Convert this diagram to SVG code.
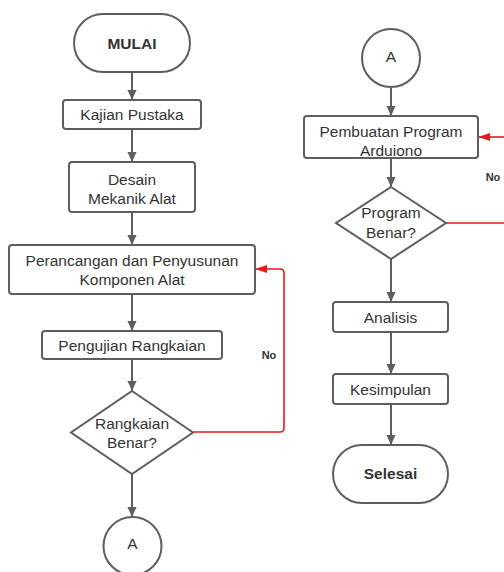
<svg xmlns="http://www.w3.org/2000/svg" width="504" height="572" viewBox="0 0 504 572">
<defs>
<marker id="ah" markerWidth="10" markerHeight="10" viewBox="0 0 10 10" refX="9" refY="5" orient="auto" markerUnits="userSpaceOnUse">
<path d="M0,0.5 L10,5 L0,9.5 Z" fill="#5e5e5e"/>
</marker>
<marker id="ahr" markerWidth="12" markerHeight="10" viewBox="0 0 12 10" refX="11" refY="5" orient="auto" markerUnits="userSpaceOnUse">
<path d="M0,1 L12,5 L0,9 Z" fill="#e81b1b"/>
</marker>
</defs>
<style>
.s{fill:#fff;stroke:#5e5e5e;stroke-width:2}
.t{font-family:"Liberation Sans",Arial,sans-serif;font-size:15.5px;fill:#333;text-anchor:middle}
.b{font-weight:bold}
.n{font-family:"Liberation Sans",Arial,sans-serif;font-size:11px;font-weight:bold;fill:#333;text-anchor:middle}
.c{fill:none;stroke:#5e5e5e;stroke-width:2}
.r{fill:none;stroke:#e81b1b;stroke-width:1.6}
</style>
<rect width="504" height="572" fill="#fff"/>
<g id="connectors">
<path class="c" d="M132,72 V99" marker-end="url(#ah)"/>
<path class="c" d="M132,129 V161" marker-end="url(#ah)"/>
<path class="c" d="M132,212 V244" marker-end="url(#ah)"/>
<path class="c" d="M132,294 V330" marker-end="url(#ah)"/>
<path class="c" d="M132,359 V390" marker-end="url(#ah)"/>
<path class="c" d="M132,474 V516" marker-end="url(#ah)"/>
<path class="r" d="M193,432 H280 Q284,432 284,428 V273 Q284,269 280,269 H256" marker-end="url(#ahr)"/>
<text class="n" x="269" y="359">No</text>
<path class="c" d="M391,88 V115" marker-end="url(#ah)"/>
<path class="c" d="M391,158 V186" marker-end="url(#ah)"/>
<path class="c" d="M391,258 V301" marker-end="url(#ah)"/>
<path class="c" d="M391,332 V373" marker-end="url(#ah)"/>
<path class="c" d="M391,404 V444" marker-end="url(#ah)"/>
<path class="r" d="M446,223 H504"/>
<path class="r" d="M504,137 H479" marker-end="url(#ahr)"/>
<text class="n" x="493" y="181">No</text>
</g>
<g id="mulai"><rect class="s" x="74" y="14" width="116" height="58" rx="29"/><text class="t b" x="132" y="48.5">MULAI</text></g>
<g id="kajian"><rect class="s" x="63" y="100" width="138" height="29" rx="3"/><text class="t" x="132" y="120">Kajian Pustaka</text></g>
<g id="desain"><rect class="s" x="69" y="162" width="126" height="50" rx="3"/><text class="t" x="132" y="184.5">Desain</text><text class="t" x="132" y="203.5">Mekanik Alat</text></g>
<g id="perancangan"><rect class="s" x="9" y="245" width="246" height="49" rx="3"/><text class="t" x="132" y="266">Perancangan dan Penyusunan</text><text class="t" x="132" y="285">Komponen Alat</text></g>
<g id="pengujian"><rect class="s" x="42" y="331" width="180" height="28" rx="3"/><text class="t" x="132" y="350.5">Pengujian Rangkaian</text></g>
<g id="rangkaian-benar"><path class="s" d="M132,391 L193,432.5 L132,474 L71,432.5 Z"/><text class="t" x="132" y="428.5">Rangkaian</text><text class="t" x="132" y="447.5">Benar?</text></g>
<g id="a-left"><circle class="s" cx="132.5" cy="546" r="29"/><text class="t" x="132.5" y="549">A</text></g>
<g id="a-right"><circle class="s" cx="391" cy="58" r="29"/><text class="t" x="391" y="61.5">A</text></g>
<g id="pembuatan"><rect class="s" x="304" y="116" width="174" height="42" rx="3"/><text class="t" x="391" y="137">Pembuatan Program</text><text class="t" x="391" y="156">Arduiono</text></g>
<g id="program-benar"><path class="s" d="M391,187 L446,223 L391,259 L336,223 Z"/><text class="t" x="391" y="218">Program</text><text class="t" x="391" y="238">Benar?</text></g>
<g id="analisis"><rect class="s" x="333" y="302" width="115" height="30" rx="3"/><text class="t" x="390.5" y="322.5">Analisis</text></g>
<g id="kesimpulan"><rect class="s" x="333" y="374" width="115" height="30" rx="3"/><text class="t" x="390.5" y="394.5">Kesimpulan</text></g>
<g id="selesai"><rect class="s" x="333" y="445" width="115" height="58" rx="29"/><text class="t b" x="390.5" y="479">Selesai</text></g>
</svg>
